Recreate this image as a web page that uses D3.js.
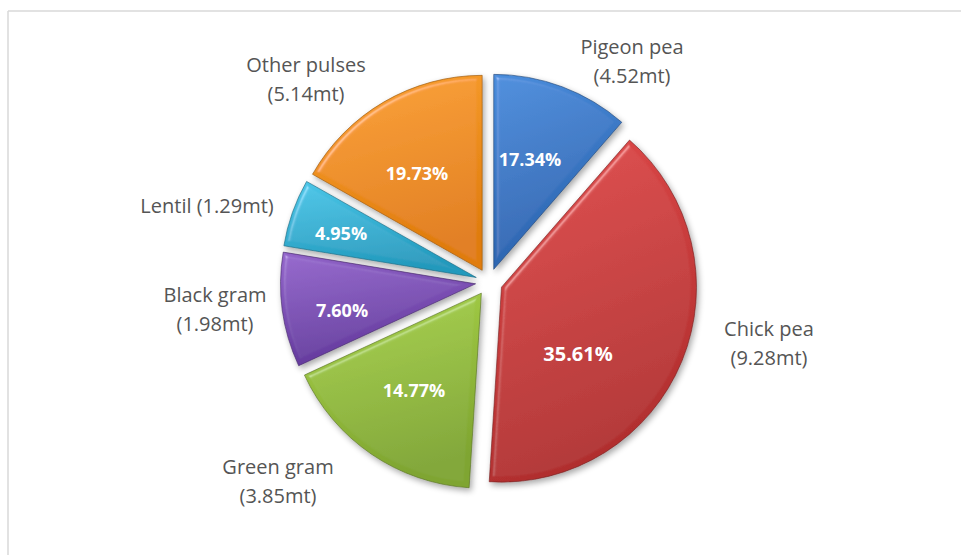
<!DOCTYPE html>
<html>
<head>
<meta charset="utf-8">
<script src="https://cdn.jsdelivr.net/npm/d3@7/dist/d3.min.js"></script>
<style>
  html, body { margin: 0; padding: 0; background: #ffffff; }
  svg { display: block; }
</style>
</head>
<body>
<svg id="chart" width="961" height="555"></svg>
<script>
// ---- data ----
const categories   = ["Pigeon pea", "Chick pea", "Green gram", "Black gram", "Lentil", "Other pulses"];
const production   = ["4.52mt", "9.28mt", "3.85mt", "1.98mt", "1.29mt", "5.14mt"];
const percentLabels = ["17.34%", "35.61%", "14.77%", "7.60%", "4.95%", "19.73%"];
// slice sizes as drawn in the picture (share of the full circle, %)
const sliceShares  = [11.4, 39.6, 17.1, 9.5, 5.6, 16.8];
const colorsLight  = ["#4a8ddc", "#e04a4a", "#a8d24a", "#9466cc", "#4ac6e8", "#faa030"];
const colorsDark   = ["#2b63ae", "#b02e2e", "#7fa530", "#63399c", "#2299bc", "#e07c0c"];

// ---- layout ----
const W = 961, H = 555;
const cx = 489, cy = 282, R = 195, explode = 13.5;
// label anchor points (layout of the text, [x, baseline of first line])
const nameLayout = [
  {x: 632, y: 54, lines: 2},
  {x: 769, y: 336, lines: 2},
  {x: 278, y: 474, lines: 2},
  {x: 215, y: 302, lines: 2},
  {x: 207, y: 213, lines: 1},
  {x: 306, y: 72, lines: 2}
];
const pctLayout = [
  {x: 530, y: 166, size: 18},
  {x: 578, y: 361, size: 20},
  {x: 414, y: 397, size: 18},
  {x: 342, y: 317, size: 18},
  {x: 341, y: 240, size: 18},
  {x: 417, y: 180, size: 18}
];

const svg = d3.select("#chart");
const defs = svg.append("defs");

// bevel + shadow filter
const f = defs.append("filter").attr("id", "bevel")
  .attr("x", "-15%").attr("y", "-15%").attr("width", "135%").attr("height", "135%");
f.append("feGaussianBlur").attr("in", "SourceAlpha").attr("stdDeviation", 2.5).attr("result", "b");
const spec = f.append("feSpecularLighting").attr("in", "b").attr("surfaceScale", 4)
  .attr("specularConstant", 0.8).attr("specularExponent", 35)
  .attr("lighting-color", "#ffffff").attr("result", "s");
spec.append("feDistantLight").attr("azimuth", 225).attr("elevation", 45);
f.append("feComposite").attr("in", "s").attr("in2", "SourceAlpha").attr("operator", "in").attr("result", "s2");
f.append("feComposite").attr("in", "SourceGraphic").attr("in2", "s2").attr("operator", "arithmetic")
  .attr("k1", 0).attr("k2", 1).attr("k3", 0.3).attr("k4", 0).attr("result", "lit");
f.append("feGaussianBlur").attr("in", "SourceAlpha").attr("stdDeviation", 3).attr("result", "sb");
f.append("feOffset").attr("in", "sb").attr("dx", 2).attr("dy", 3).attr("result", "so");
f.append("feComponentTransfer").attr("in", "so").attr("result", "sh")
  .append("feFuncA").attr("type", "linear").attr("slope", 0.35);
const m = f.append("feMerge");
m.append("feMergeNode").attr("in", "sh");
m.append("feMergeNode").attr("in", "lit");

// gradients
categories.forEach((c, i) => {
  const g = defs.append("linearGradient").attr("id", "grad" + i)
    .attr("x1", 0).attr("y1", 0).attr("x2", 0.25).attr("y2", 1);
  g.append("stop").attr("offset", "0%").attr("stop-color", colorsLight[i]);
  g.append("stop").attr("offset", "100%").attr("stop-color", colorsDark[i]);
});

// frame lines
svg.append("line").attr("x1", 8).attr("y1", 11).attr("x2", W).attr("y2", 11)
  .attr("stroke", "#d9d9d9").attr("stroke-width", 1.5);
svg.append("line").attr("x1", 8).attr("y1", 11).attr("x2", 8).attr("y2", H)
  .attr("stroke", "#d9d9d9").attr("stroke-width", 1.5);

// pie
const pie = d3.pie().sort(null).value(d => d.share);
const arc = d3.arc().innerRadius(0).outerRadius(R);
const data = categories.map((c, i) => ({name: c, share: sliceShares[i], i}));
const arcs = pie(data);

const gPie = svg.append("g").attr("transform", `translate(${cx},${cy})`);
gPie.selectAll("path.slice").data(arcs).enter().append("path")
  .attr("class", "slice")
  .attr("transform", d => {
    const a = (d.startAngle + d.endAngle) / 2;
    return `translate(${Math.sin(a) * explode},${-Math.cos(a) * explode})`;
  })
  .attr("d", arc)
  .attr("fill", d => `url(#grad${d.data.i})`)
  .attr("stroke", d => d3.color(colorsDark[d.data.i]).darker(1.2))
  .attr("stroke-width", 1)
  .attr("stroke-opacity", 0.6)
  .attr("filter", "url(#bevel)");

// percentage labels
svg.selectAll("text.pct").data(arcs).enter().append("text")
  .attr("class", "pct")
  .attr("x", d => pctLayout[d.data.i].x)
  .attr("y", d => pctLayout[d.data.i].y)
  .attr("text-anchor", "middle")
  .attr("font-family", "'Open Sans', sans-serif")
  .attr("font-weight", "bold")
  .attr("font-size", d => pctLayout[d.data.i].size)
  .attr("fill", "#ffffff")
  .text(d => percentLabels[d.data.i]);

// category labels
const nameG = svg.selectAll("text.name").data(arcs).enter().append("text")
  .attr("class", "name")
  .attr("text-anchor", "middle")
  .attr("font-family", "'Open Sans', sans-serif")
  .attr("font-size", 20)
  .attr("fill", "#555555");
nameG.each(function(d) {
  const L = nameLayout[d.data.i];
  const t = d3.select(this);
  if (L.lines === 1) {
    t.append("tspan").attr("x", L.x).attr("y", L.y)
      .text(`${categories[d.data.i]} (${production[d.data.i]})`);
  } else {
    t.append("tspan").attr("x", L.x).attr("y", L.y).text(categories[d.data.i]);
    t.append("tspan").attr("x", L.x).attr("y", L.y + 29).text(`(${production[d.data.i]})`);
  }
});
</script>
</body>
</html>
